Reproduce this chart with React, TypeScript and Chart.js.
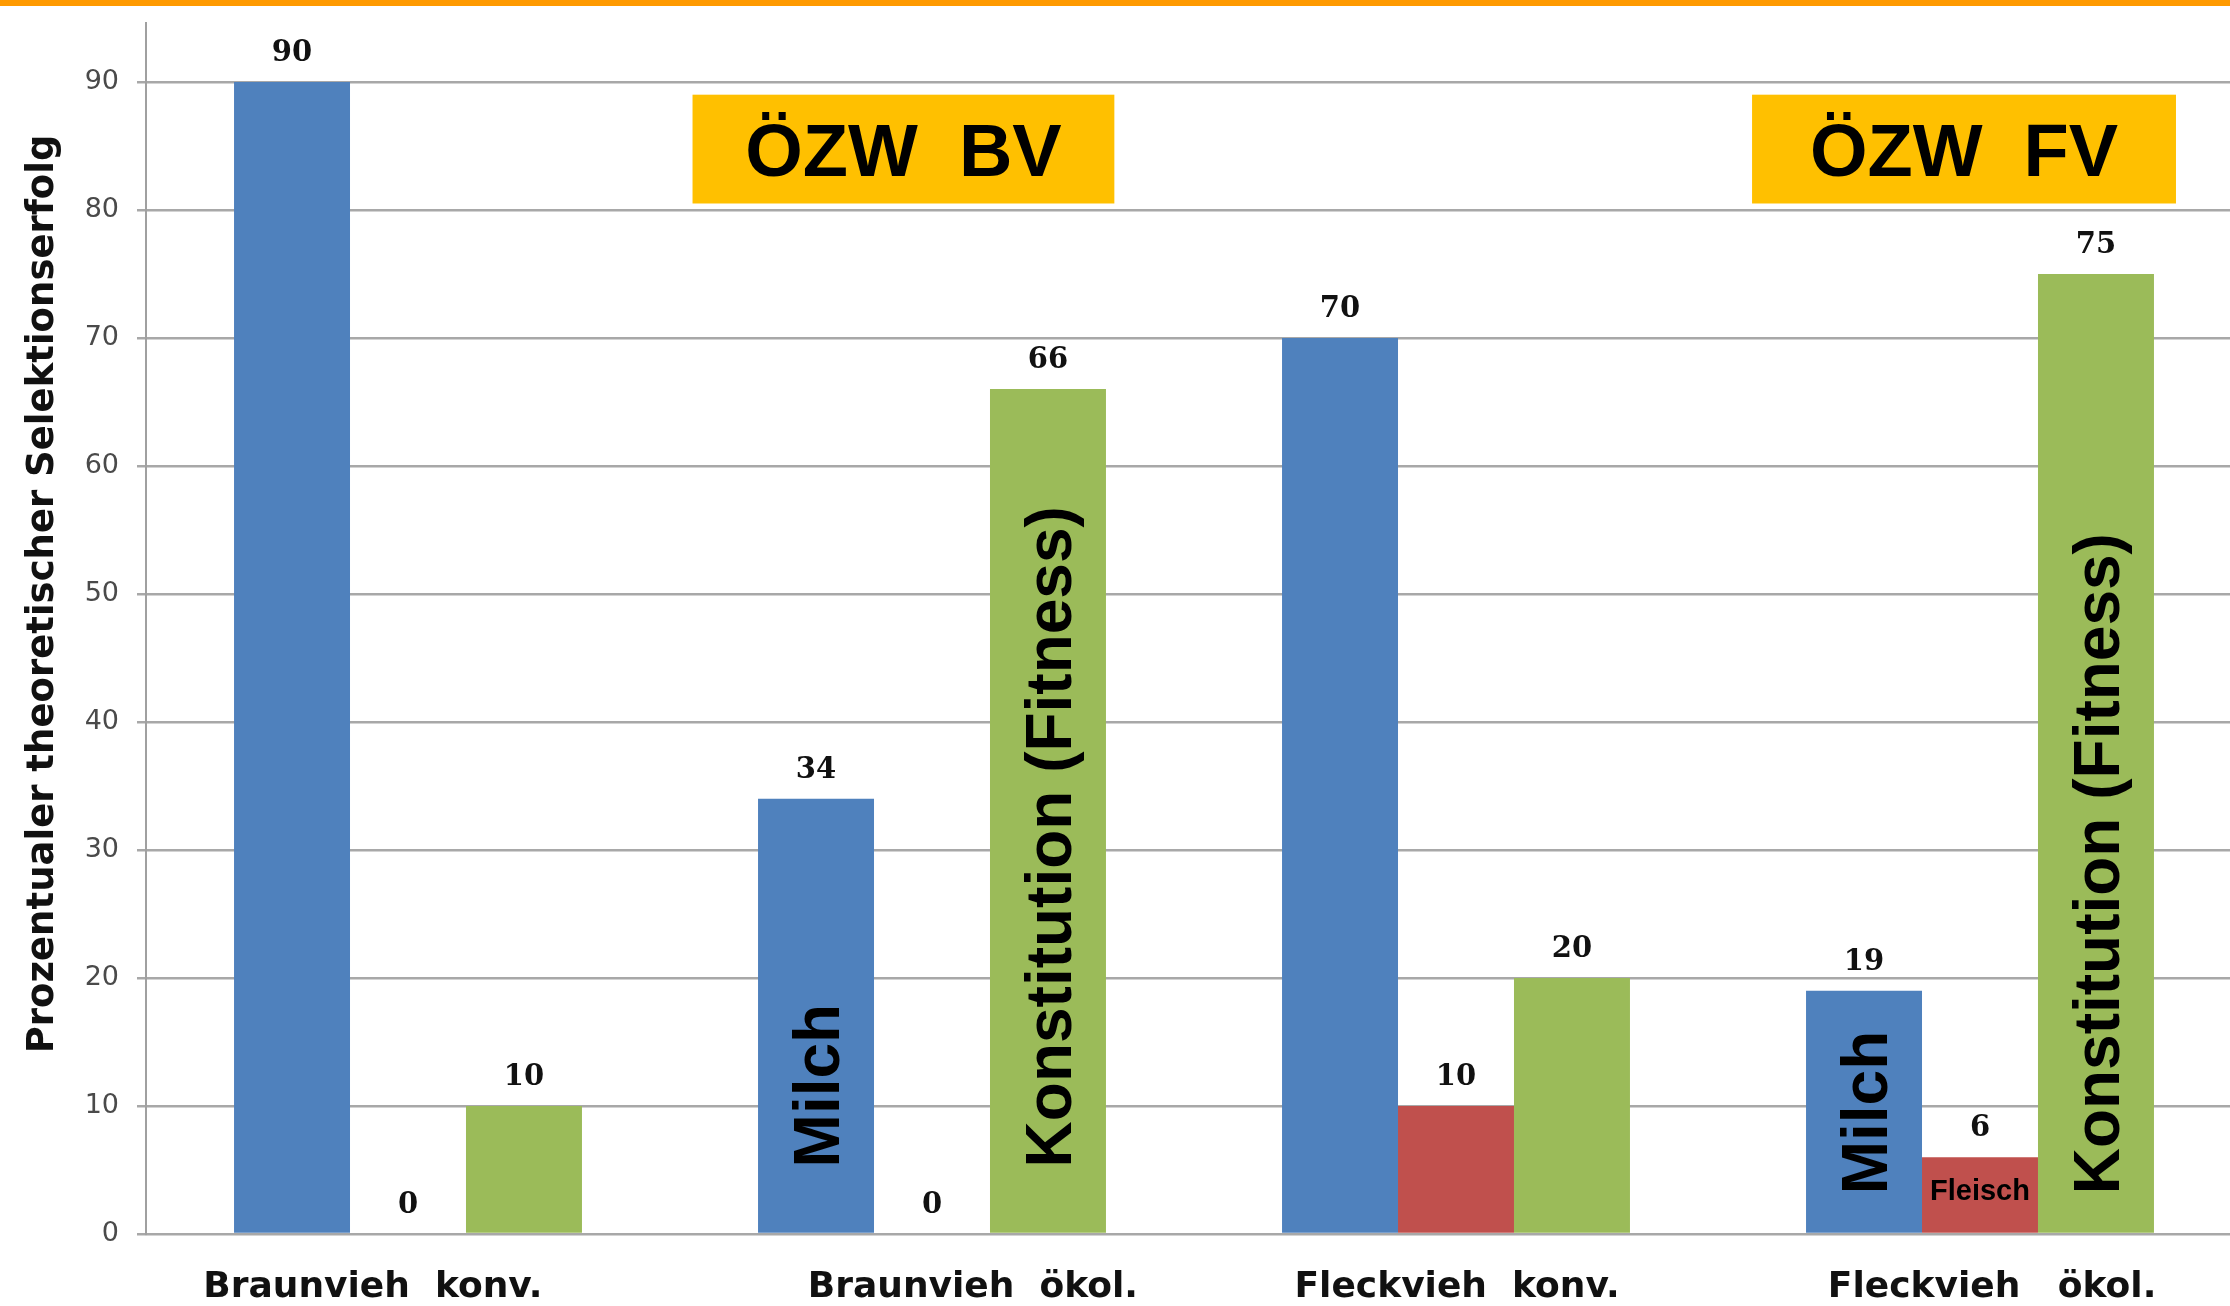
import React, { useEffect, useRef } from 'react';
import { Chart, registerables } from 'chart.js';

Chart.register(...registerables);

// ---- data ----
const categories = ['Braunvieh  konv.', 'Braunvieh  ökol.', 'Fleckvieh  konv.', 'Fleckvieh   ökol.'];
const seriesNames = ['Milch', 'Fleisch', 'Konstitution (Fitness)'];
const milch = [90, 34, 70, 19];
const fleisch = [0, 0, 10, 6];
const konstitution = [10, 66, 20, 75];
const yAxisTitle = 'Prozentualer theoretischer Selektionserfolg';
const yMin = 0;
const yMax = 94.6;
const yStep = 10;

// category-label horizontal nudges (fraction of a category width)
const categoryLabelShift = [-0.067, 0.078, 0.002, 0.023];

// highlighted boxes (category units / value units)
const boxTexts = ['ÖZW  BV', 'ÖZW  FV'];
const boxXFrom = [0.543, 2.565];
const boxXTo = [1.348, 3.374];
const boxYFrom = [80.5, 80.5];
const boxYTo = [89.0, 89.0];

// text inside bars
const innerTexts = ['Milch', 'Konstitution (Fitness)', 'Milch', 'Konstitution (Fitness)', 'Fleisch'];
const innerDataset = [0, 2, 0, 2, 1];
const innerIndex = [1, 1, 3, 3, 3];
const innerRotated = [true, true, true, true, false];
const innerAt = [5.2, 5.2, 3.1, 3.1, 3.5];

const COLORS = ['#4F81BD', '#C0504D', '#9BBB59'];

const overlayPlugin = {
  id: 'overlay',
  afterDatasetsDraw(chart: any) {
    const ctx = chart.ctx;
    const x = chart.scales.x;
    const y = chart.scales.y;
    const area = chart.chartArea;
    ctx.save();

    // value labels above bars
    ctx.fillStyle = '#111';
    ctx.font = 'bold 29px "DejaVu Serif"';
    ctx.textAlign = 'center';
    ctx.textBaseline = 'alphabetic';
    chart.data.datasets.forEach((ds: any, di: number) => {
      const meta = chart.getDatasetMeta(di);
      meta.data.forEach((bar: any, i: number) => {
        ctx.fillText(String(ds.data[i]), bar.x, bar.y - 21);
      });
    });

    // inner bar texts
    innerTexts.forEach((t, k) => {
      const bar = chart.getDatasetMeta(innerDataset[k]).data[innerIndex[k]];
      const py = y.getPixelForValue(innerAt[k]);
      ctx.fillStyle = '#000';
      if (innerRotated[k]) {
        const size = 64;
        ctx.font = `bold ${size}px "Liberation Sans"`;
        ctx.save();
        ctx.translate(bar.x + size * 0.716 / 2, py);
        ctx.rotate(-Math.PI / 2);
        ctx.textAlign = 'left';
        ctx.textBaseline = 'alphabetic';
        ctx.fillText(t, 0, 0);
        ctx.restore();
      } else {
        const size = 29;
        ctx.font = `bold ${size}px "Liberation Sans"`;
        ctx.textAlign = 'center';
        ctx.textBaseline = 'alphabetic';
        ctx.fillText(t, bar.x, py + size * 0.716 / 2);
      }
    });

    // ÖZW boxes
    boxTexts.forEach((t, k) => {
      const l = x.getPixelForValue(boxXFrom[k]);
      const r = x.getPixelForValue(boxXTo[k]);
      const top = y.getPixelForValue(boxYTo[k]);
      const bot = y.getPixelForValue(boxYFrom[k]);
      ctx.fillStyle = '#FFC000';
      ctx.fillRect(l, top, r - l, bot - top);
      const size = 74;
      ctx.fillStyle = '#000';
      ctx.font = `bold ${size}px "Liberation Sans"`;
      ctx.textAlign = 'center';
      ctx.textBaseline = 'alphabetic';
      ctx.fillText(t, (l + r) / 2, (top + bot) / 2 + size * 0.716 / 2);
    });

    // category labels
    const catW = (area.right - area.left) / categories.length;
    ctx.fillStyle = '#111';
    ctx.font = 'bold 36px "DejaVu Sans"';
    ctx.textAlign = 'center';
    ctx.textBaseline = 'alphabetic';
    categories.forEach((c, i) => {
      ctx.fillText(c, x.getPixelForValue(i) + categoryLabelShift[i] * catW, area.bottom + 63);
    });

    // y-axis title
    ctx.save();
    ctx.translate(53, y.getPixelForValue(50));
    ctx.rotate(-Math.PI / 2);
    ctx.fillStyle = '#111';
    ctx.font = 'bold 37px "DejaVu Sans"';
    ctx.textAlign = 'center';
    ctx.textBaseline = 'alphabetic';
    ctx.fillText(yAxisTitle, 0, 0);
    ctx.restore();

    // orange top stripe
    ctx.fillStyle = '#FF9A00';
    ctx.fillRect(0, 0, chart.width, 6);

    ctx.restore();
  },
};

export default function App() {
  const ref = useRef<HTMLCanvasElement | null>(null);

  useEffect(() => {
    const canvas = ref.current;
    if (!canvas) return;
    const chart = new Chart(canvas, {
      type: 'bar',
      data: {
        labels: categories,
        datasets: [
          { label: seriesNames[0], data: milch, backgroundColor: COLORS[0] },
          { label: seriesNames[1], data: fleisch, backgroundColor: COLORS[1] },
          { label: seriesNames[2], data: konstitution, backgroundColor: COLORS[2] },
        ],
      },
      options: {
        responsive: false,
        animation: false,
        devicePixelRatio: 1,
        layout: { padding: { top: 23, right: 1, bottom: 0, left: 0 } },
        datasets: { bar: { barPercentage: 1, categoryPercentage: 0.664 } },
        plugins: { legend: { display: false }, tooltip: { enabled: false } },
        scales: {
          x: {
            type: 'category',
            grid: { display: false },
            border: { display: false },
            ticks: { display: false },
            afterFit: (s: any) => { s.height = 72; s.paddingLeft = 0; s.paddingRight = 0; },
          },
          y: {
            min: yMin,
            max: yMax,
            ticks: {
              stepSize: yStep,
              includeBounds: false,
              color: '#4a4a4a',
              font: { family: '"DejaVu Sans"', size: 27 },
              padding: 18,
            },
            grid: { color: '#a8a8a8', lineWidth: 2.5, tickLength: 9 },
            border: { display: true, color: '#a0a0a0', width: 2 },
            afterFit: (s: any) => { s.width = 146; s.paddingTop = 0; s.paddingBottom = 0; },
          },
        },
      },
      plugins: [overlayPlugin],
    } as any);
    return () => chart.destroy();
  }, []);

  return (
    <div style={{ position: 'fixed', left: 0, top: 0, width: 2230, height: 1306, overflow: 'hidden', background: '#fff' }}>
      <canvas ref={ref} width={2243} height={1306} style={{ display: 'block' }} />
    </div>
  );
}
